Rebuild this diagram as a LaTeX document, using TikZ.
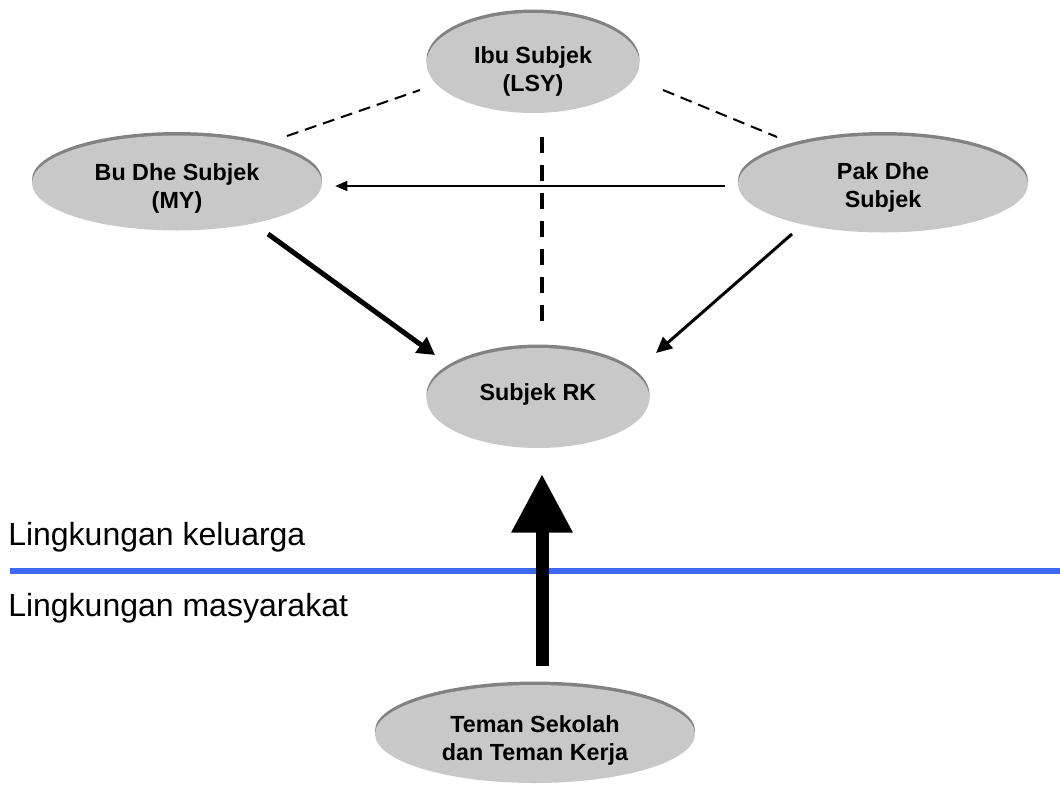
\documentclass[tikz,border=0pt]{standalone}
\usepackage{fontspec}
\setmainfont{Liberation Sans}
\usetikzlibrary{shapes.geometric,arrows.meta,shadows,calc}
\definecolor{ellfill}{RGB}{200,200,200}
\definecolor{rimgray}{RGB}{130,130,130}
\definecolor{lineblue}{RGB}{60,105,240}
\tikzset{
  ell/.style={ellipse, fill=ellfill, draw=none, inner sep=0pt,
    general shadow={fill=rimgray, shadow yshift=2.6pt}},
  lbl/.style={align=center, inner sep=0pt, font=\bfseries\fontsize{17.5}{21}\selectfont},
  side/.style={inner sep=0pt, font=\fontsize{24}{28}\selectfont},
  dashthin/.style={line width=1.5pt, dash pattern=on 9pt off 5.25pt},
  dashthick/.style={line width=3pt, dash pattern=on 12pt off 9pt},
  arrthin/.style={line width=1.1pt, -{Triangle[length=9pt,width=7.5pt]}},
  arrmed/.style={line width=2.25pt, -{Triangle[length=12pt,width=11pt]}},
  arrbold/.style={line width=3.75pt, -{Triangle[length=13pt,width=14pt]}},
  arrbig/.style={line width=9.75pt, -{Triangle[length=44pt,width=43.5pt]}},
}
\begin{document}
\begin{tikzpicture}[x=0.75pt,y=-0.75pt]
\useasboundingbox (0,0) rectangle (1060,785);

% ellipses
\node[ell, minimum width=159.75pt, minimum height=75pt] (ibu) at (533,63) {};
\node[ell, minimum width=217.5pt, minimum height=71.25pt] (bu) at (177,183) {};
\node[ell, minimum width=217.5pt, minimum height=72.75pt] (pak) at (883,184) {};
\node[ell, minimum width=167.25pt, minimum height=75pt] (rk) at (538,398) {};
\node[ell, minimum width=240pt, minimum height=73.5pt] (teman) at (535,734) {};

% texts
\node[lbl] (ibut) at ([shift={(0,8)}]ibu.center) {Ibu Subjek\\(LSY)};
\node[lbl] (but) at ([shift={(0,5)}]bu.center) {Bu Dhe Subjek\\(MY)};
\node[lbl] (pakt) at ([shift={(0,3)}]pak.center) {Pak Dhe\\Subjek};
\node[lbl] (rkt) at ([shift={(0,-4)}]rk.center) {Subjek RK};
\node[lbl] (temant) at ([shift={(0,6)}]teman.center) {Teman Sekolah\\dan Teman Kerja};

% dashed links
\draw[dashthin] ([shift={(110,-47)}]bu.center) -- ([shift={(-113,27)}]ibu.center);
\draw[dashthin] ([shift={(130,27)}]ibu.center) -- ([shift={(-106,-47)}]pak.center);
\draw[dashthick] ([shift={(9,74)}]ibu.center) -- ([shift={(4,-76)}]rk.center);

% arrows
\draw[arrthin] ([shift={(-13,2)}]pak.west) -- ([shift={(13,3)}]bu.east);
\draw[arrbold] ([shift={(91,51)}]bu.center) -- ([shift={(-103,-43)}]rk.center);
\draw[arrmed] ([shift={(-91,50)}]pak.center) -- ([shift={(118,-45)}]rk.center);

% separator
\coordinate (sepl) at (10,571);
\coordinate (sepr) at (1060,571);
\draw[lineblue, line width=4.2pt] (sepl) -- (sepr);

\draw[arrbig] ([shift={(7,-68)}]teman.center) -- ([shift={(4,76)}]rk.center);

\node[side, anchor=base west] (keluarga) at (8,545) {Lingkungan keluarga};
\node[side, anchor=base west] (masyarakat) at (8,616) {Lingkungan masyarakat};
\end{tikzpicture}
\end{document}
